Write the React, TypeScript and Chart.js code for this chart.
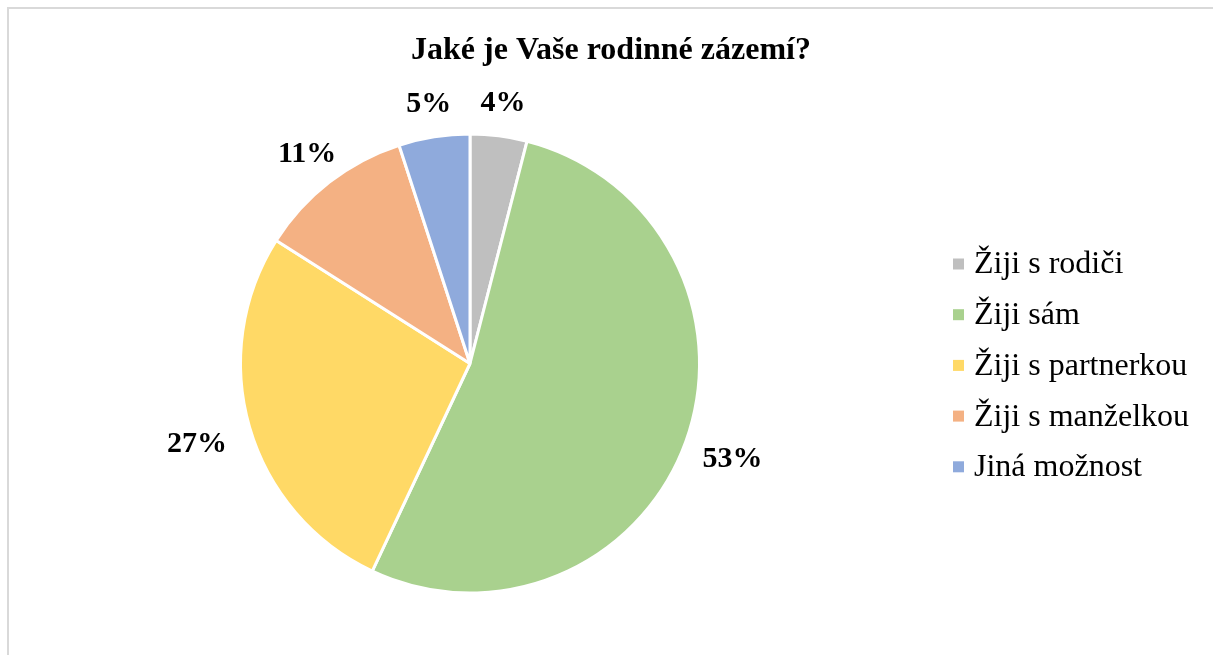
import React, { useEffect, useRef } from "react";
import { Chart, registerables } from "chart.js";

Chart.register(...registerables);

const title = "Jaké je Vaše rodinné zázemí?";
const categories = ["Žiji s rodiči", "Žiji sám", "Žiji s partnerkou", "Žiji s manželkou", "Jiná možnost"];
const values = [4, 53, 27, 11, 5];
const colors = ["#BFBFBF", "#A9D18E", "#FFD966", "#F4B183", "#8FAADC"];

const FONT = "'Liberation Serif', 'Times New Roman', serif";

const overlayPlugin = {
  id: "overlay",
  afterDraw(chart: any) {
    const ctx = chart.ctx;
    ctx.save();
    // title
    ctx.fillStyle = "#000";
    ctx.font = `bold 32px ${FONT}`;
    ctx.textAlign = "center";
    ctx.textBaseline = "alphabetic";
    ctx.fillText(title, 611, 59);

    // data labels
    const meta = chart.getDatasetMeta(0);
    const total = values.reduce((a, b) => a + b, 0);
    ctx.font = `bold 30px ${FONT}`;
    ctx.textAlign = "center";
    ctx.textBaseline = "middle";
    meta.data.forEach((arc: any, i: number) => {
      const mid = (arc.startAngle + arc.endAngle) / 2;
      const dx = Math.cos(mid);
      const dy = Math.sin(mid);
      const txt = Math.round((values[i] / total) * 100) + "%";
      const hw = ctx.measureText(txt).width / 2;
      const hh = 8;
      const edge = Math.min(Math.abs(dx) > 1e-6 ? hw / Math.abs(dx) : 1e9, Math.abs(dy) > 1e-6 ? hh / Math.abs(dy) : 1e9);
      const d = arc.outerRadius + 26 + edge;
      ctx.fillText(txt, arc.x + dx * d, arc.y + dy * d + 1);
    });

    // legend
    ctx.font = `32px ${FONT}`;
    ctx.textAlign = "left";
    ctx.textBaseline = "middle";
    categories.forEach((c, i) => {
      const cy = 264 + i * 50.7;
      ctx.fillStyle = colors[i];
      ctx.fillRect(953, cy - 5.5, 11, 11);
      ctx.fillStyle = "#000";
      ctx.fillText(c, 974, cy + 1);
    });
    ctx.restore();
  },
};

export default function App() {
  const ref = useRef<HTMLCanvasElement>(null);
  useEffect(() => {
    const chart = new Chart(ref.current as HTMLCanvasElement, {
      type: "pie",
      data: {
        labels: categories,
        datasets: [
          {
            data: values,
            backgroundColor: colors,
            borderColor: "#ffffff",
            borderWidth: 3,
          },
        ],
      },
      options: {
        responsive: false,
        animation: false,
        layout: { padding: { top: 132, bottom: 60, left: 239, right: 512 } },
        plugins: {
          legend: { display: false },
          title: { display: false },
          tooltip: { enabled: false },
        },
      },
      plugins: [overlayPlugin],
    });
    return () => chart.destroy();
  }, []);
  return (
    <div style={{ position: "fixed", left: 0, top: 0, width: 1213, height: 655, overflow: "hidden", background: "#fff" }}>
      <div
        style={{
          position: "absolute",
          left: 7,
          top: 7,
          width: 1300,
          height: 800,
          border: "2px solid #D9D9D9",
          boxSizing: "border-box",
        }}
      />
      <canvas ref={ref} width={1213} height={655} style={{ position: "absolute", left: 0, top: 0 }} />
    </div>
  );
}
